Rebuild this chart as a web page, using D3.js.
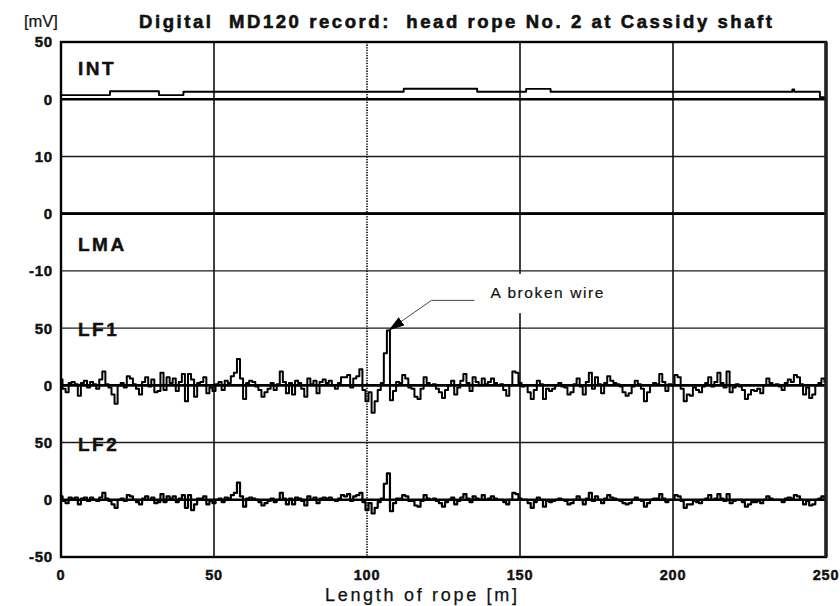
<!DOCTYPE html>
<meta charset="utf-8">
<script src="https://d3js.org/d3.v7.min.js"></script>
<style>
  body { margin: 0; background: #fff; }
  text { font-family: "Liberation Sans", Arial, Helvetica, sans-serif; fill: #111; }
  .heavy { font-weight: bold; stroke: #111; stroke-width: 0.45px; }
</style>
<div id="chart"></div>
<script>

// ---- data ----
// y axis: 9 equal bands, labelled per channel
var yTickLabels = ["-50", "0", "50", "0", "50", "-10", "0", "10", "0", "50"];
var xTicks = [0, 50, 100, 150, 200, 250];

// INT channel, step record (metres where the level changes, level in mV)
var intMeters = [0, 16, 32, 40, 112, 136, 152, 160, 239, 239.6, 248, 250];
var intValues = [3.6, 7, 3.6, 6.5, 9.2, 6.5, 9, 6.5, 8.5, 6.5, 1.8, 1.8];

// LMA channel: flat at zero over the whole length
var lmaMeters = [0, 250];
var lmaValues = [0, 0];

// LF1 channel, one reading per metre from 0 to 250 m (mV)
var lf1Values = [
  5, -3, -6, 2, 3, 1, -9, 2, 4, -2,
  3, 1, -3, 5, 12, 1, -2, -8, -16, 0,
  2, -2, 8, 6, 1, -3, -8, 3, 7, -1,
  5, -6, -5, 11, -4, 7, 2, 6, -5, 3,
  10, -14, 10, 5, -10, 2, 3, 7, -7, -2,
  -5, 1, 3, -4, 4, 2, 8, 11, 23, 6,
  -12, 2, 4, 3, -1, -4, -10, -6, -3, 2,
  -4, 1, 12, 3, -7, 2, -8, 4, 2, -3,
  -10, 6, 1, 4, -7, 3, 5, 2, 4, 0,
  -3, 2, 7, 7, 9, -2, 6, 8, 14, -4,
  -14, -6, -24, -14, -4, 2, 28, 48, -13, -5,
  3, 2, 9, 6, -2, -3, -10, -12, -3, 7,
  2, 0, 1, -3, -6, -11, -4, 0, 4, -8,
  -2, 4, 10, 2, -5, 7, 3, 0, 6, 1,
  3, 6, 2, 0, 1, -4, -9, 0, 12, 11,
  2, -1, 0, -6, -12, -4, 4, 1, -12, -3,
  -5, -3, 0, 2, -1, -2, -8, -6, 1, 6,
  -1, -8, 3, 11, -3, 7, 1, -7, 2, 8,
  4, 2, 1, -1, -6, -9, -7, -1, 4, 1,
  -3, -14, -6, 0, 2, 1, 10, 3, -5, 1,
  0, 9, 7, -3, -14, -8, -9, -2, -4, -6,
  -1, 2, 7, -1, 3, 11, 2, -2, 12, -6,
  -2, 1, -1, -4, -12, -8, -4, -5, -3, -7,
  0, 6, 2, 0, 1, -1, -4, 2, 5, 3,
  9, 7, 1, -8, -2, -11, -8, 0, 2, 6,
  3
];

// LF2 channel, one reading per metre from 0 to 250 m (mV)
var lf2Values = [
  3, -1, -3, 2, 1, 2, -4, 1, 2, -1,
  2, 0, -1, 2, 6, 1, -1, -4, -7, 0,
  1, -1, 4, 3, 0, -2, -4, 1, 3, 0,
  2, -3, -2, 5, -2, 3, 1, 3, -2, 1,
  4, -7, 4, -9, -4, 1, 1, 3, -4, -1,
  -3, 0, 1, -2, 2, 1, 4, 6, 15, 3,
  -6, 1, 2, 1, 0, -2, -5, -3, -1, 1,
  -2, 0, 6, 1, -4, 1, -4, 2, 1, -1,
  -5, 3, 0, 2, -3, 1, 2, 1, 2, 0,
  -1, 1, 4, 3, 5, -1, 3, 4, 6, -2,
  -9, -3, -12, -7, -2, 1, 14, 23, -10, -3,
  1, 1, 4, 3, -1, -1, -5, -6, -1, 4,
  1, 0, 1, -1, -3, -6, -2, 0, 2, -4,
  -1, 2, 5, 1, -2, 3, 1, 0, 4, 0,
  1, 3, 1, 0, 0, -2, -4, 0, 6, 5,
  1, 0, 0, -3, -7, -2, 2, 0, -6, -1,
  -2, -1, 0, 1, 0, -1, -4, -3, 0, 3,
  0, -4, 1, 6, -1, 3, 0, -3, 1, 4,
  2, 1, 0, -1, -3, -4, -3, 0, 2, 0,
  -1, -6, -3, 0, 1, 1, 5, 1, -2, 0,
  0, 4, 3, -1, -7, -4, -4, -1, -2, -3,
  0, 1, 4, 0, 1, 5, 1, -1, 5, -3,
  -1, 0, 0, -2, -6, -4, -2, -2, -1, -3,
  0, 3, 1, 0, 0, 0, -2, 1, 2, 1,
  4, 3, 0, -4, -1, -5, -4, 0, 1, 3,
  1
];

// ---- layout ----
var W = 840, H = 606;
var plot = {left: 61, right: 826, top: 42, bottom: 557};

var svg = d3.select("#chart")
  .append("svg")
    .attr("width", W)
    .attr("height", H);

var x = d3.scaleLinear()
  .domain([0, 250])
  .range([plot.left, plot.right]);

// band position scale: 0 = bottom of plot, 9 = top
var y = d3.scaleLinear()
  .domain([0, 9])
  .range([plot.bottom, plot.top]);

// each channel: zero band line and mV per band
var channels = {
  INT: {zero: 8, perBand: 50},
  LMA: {zero: 6, perBand: 10},
  LF1: {zero: 3, perBand: 50},
  LF2: {zero: 1, perBand: 50}
};
function yOf(ch, v) { return y(channels[ch].zero + v / channels[ch].perBand); }

// horizontal grid lines
svg.append("g")
  .selectAll("line")
  .data(d3.range(1, 9))
  .enter()
  .append("line")
    .attr("x1", plot.left).attr("x2", plot.right)
    .attr("y1", function (d) { return y(d); })
    .attr("y2", function (d) { return y(d); })
    .style("stroke", "#1a1a1a")
    .style("stroke-width", 1.4);

// vertical grid lines (100 m is dotted)
svg.append("g")
  .selectAll("line")
  .data(xTicks.slice(1, -1))
  .enter()
  .append("line")
    .attr("x1", function (d) { return x(d); })
    .attr("x2", function (d) { return x(d); })
    .attr("y1", plot.top).attr("y2", plot.bottom)
    .style("stroke", "#111")
    .style("stroke-width", function (d) { return d == 100 ? 1.7 : 1.6; })
    .style("stroke-dasharray", function (d) { return d == 100 ? "1.3,1.3" : null; });

// white box behind the annotation text
var spikeX = 107, spikeV = 48;
var tipX = x(spikeX), tipY = yOf("LF1", spikeV);
svg.append("rect")
  .attr("x", tipX + 40)
  .attr("y", y(5) + 3)
  .attr("width", 180)
  .attr("height", (y(4) - y(5)) - 18)
  .style("fill", "#fff");

// zero baselines of each channel (drawn heavier, as the recorder did)
svg.append("g")
  .selectAll("line")
  .data(["INT", "LMA", "LF1", "LF2"])
  .enter()
  .append("line")
    .attr("x1", plot.left).attr("x2", plot.right)
    .attr("y1", function (d) { return yOf(d, 0); })
    .attr("y2", function (d) { return yOf(d, 0); })
    .style("stroke", "#000")
    .style("stroke-width", 2.6);

// traces
function drawTrace(ch, meters, values, curve, width) {
  var pts = values.map(function (v, i) { return [meters[i], v]; });
  var line = d3.line()
    .x(function (d) { return x(d[0]); })
    .y(function (d) { return yOf(ch, d[1]); })
    .curve(curve);
  svg.append("path")
    .datum(pts)
    .attr("d", line)
    .style("fill", "none")
    .style("stroke", "#000")
    .style("stroke-width", width)
    .style("stroke-linejoin", "round");
}
var perMetre = d3.range(0, 251);
drawTrace("INT", intMeters, intValues, d3.curveStepAfter, 1.9);
drawTrace("LMA", lmaMeters, lmaValues, d3.curveLinear, 2.2);
drawTrace("LF1", perMetre, lf1Values, d3.curveStep, 2);
drawTrace("LF2", perMetre, lf2Values, d3.curveStep, 2.2);

// plot frame
svg.append("rect")
  .attr("x", plot.left).attr("y", plot.top)
  .attr("width", plot.right - plot.left)
  .attr("height", plot.bottom - plot.top)
  .style("fill", "none")
  .style("stroke", "#000")
  .style("stroke-width", 2.4);
svg.append("line")
  .attr("x1", plot.right).attr("x2", plot.right)
  .attr("y1", plot.top).attr("y2", plot.bottom)
  .style("stroke", "#222")
  .style("stroke-width", 3.5);

// channel names
var chLabels = [["INT", 8.43], ["LMA", 5.35], ["LF1", 3.86], ["LF2", 1.85]];
svg.append("g")
  .selectAll("text")
  .data(chLabels)
  .enter()
  .append("text")
    .attr("class", "heavy")
    .attr("x", 78)
    .attr("y", function (d) { return y(d[1]); })
    .style("font-size", "19px")
    .style("letter-spacing", "2.5px")
    .text(function (d) { return d[0]; });

// y tick labels
svg.append("g")
  .selectAll("text")
  .data(yTickLabels)
  .enter()
  .append("text")
    .attr("class", "heavy")
    .attr("x", 53)
    .attr("y", function (d, i) { return y(i); })
    .attr("dy", "0.36em")
    .attr("text-anchor", "end")
    .style("font-size", "15px")
    .style("letter-spacing", "0.8px")
    .text(function (d) { return d; });

// x tick labels
svg.append("g")
  .selectAll("text")
  .data(xTicks)
  .enter()
  .append("text")
    .attr("class", "heavy")
    .attr("x", function (d) { return x(d); })
    .attr("y", 580)
    .attr("text-anchor", "middle")
    .style("font-size", "14.5px")
    .style("letter-spacing", "0.8px")
    .text(function (d) { return d; });

// axis titles and heading
svg.append("text")
  .attr("x", 325).attr("y", 601)
  .attr("textLength", 192).attr("lengthAdjust", "spacing")
  .style("font-size", "18px")
  .style("stroke", "#111").style("stroke-width", 0.25)
  .text("Length of rope [m]");

svg.append("text")
  .attr("x", 24).attr("y", 27)
  .style("font-size", "16.5px")
  .style("stroke", "#111").style("stroke-width", 0.2)
  .text("[mV]");

svg.append("text")
  .attr("class", "heavy")
  .attr("x", 139).attr("y", 28)
  .attr("textLength", 633).attr("lengthAdjust", "spacing")
  .style("font-size", "18.5px")
  .style("stroke-width", "0.6px")
  .style("white-space", "pre")
  .text("Digital  MD120 record:  head rope No. 2 at Cassidy shaft");

// annotation: arrow to the broken wire spike on LF1
svg.append("defs").append("marker")
  .attr("id", "arrow")
  .attr("viewBox", "0 0 16 10")
  .attr("refX", 16).attr("refY", 5)
  .attr("markerWidth", 16).attr("markerHeight", 10)
  .attr("markerUnits", "userSpaceOnUse")
  .attr("orient", "auto")
  .append("path")
    .attr("d", "M0,0 L16,5 L0,10 z")
    .style("fill", "#000");

var elbowX = tipX + 43, elbowY = tipY - 30;
svg.append("polyline")
  .attr("points", [[elbowX + 43, elbowY], [elbowX, elbowY], [tipX, tipY]].join(" "))
  .style("fill", "none")
  .style("stroke", "#333")
  .style("stroke-width", 0.9)
  .attr("marker-end", "url(#arrow)");

svg.append("text")
  .attr("x", elbowX + 59).attr("y", elbowY - 2)
  .attr("textLength", 113).attr("lengthAdjust", "spacing")
  .style("font-size", "15.5px")
  .style("stroke", "#111").style("stroke-width", 0.2)
  .text("A broken wire");

</script>
